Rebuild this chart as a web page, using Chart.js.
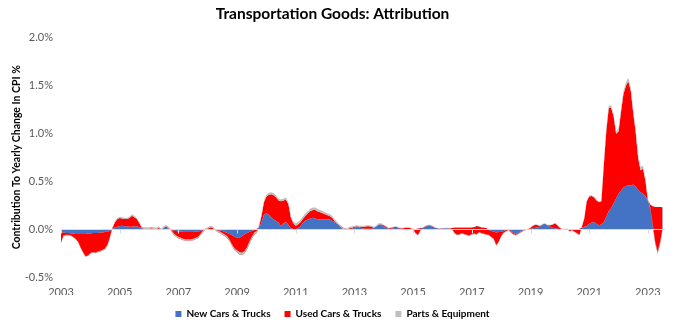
<!DOCTYPE html>
<html>
<head>
<meta charset="utf-8">
<title>Transportation Goods: Attribution</title>
<script src="https://cdn.jsdelivr.net/npm/chart.js@4.4.0/dist/chart.umd.min.js"></script>
<style>
  html, body { margin: 0; padding: 0; background: #ffffff; }
  #wrap { width: 680px; height: 325px; }
</style>
</head>
<body>
<div id="wrap"><canvas id="transportChart" width="680" height="325"></canvas></div>
<script>
// Contribution to yearly CPI change, percentage points, monthly from Jan 2003
const newCars = [
  -0.03, -0.035, -0.04, -0.04, -0.045, -0.045, -0.05, -0.05, -0.05, -0.05, -0.05, -0.045,   // 2003
  -0.045, -0.04, -0.04, -0.04, -0.035, -0.035, -0.03, -0.025, -0.02, 0.0, 0.02, 0.025,      // 2004
  0.03, 0.035, 0.03, 0.03, 0.025, 0.025, 0.03, 0.03, 0.02, 0.01, 0.005, 0.0,                // 2005
  0.0, 0.0, 0.0, 0.0, 0.005, 0.0, 0.01, 0.015, 0.005, -0.005, -0.015, -0.02,                // 2006
  -0.025, -0.025, -0.03, -0.03, -0.03, -0.03, -0.03, -0.025, -0.025, -0.02, -0.01, 0.0,     // 2007
  0.0, 0.0, 0.0, -0.005, -0.01, -0.015, -0.02, -0.03, -0.04, -0.05, -0.065, -0.08,          // 2008
  -0.09, -0.09, -0.075, -0.055, -0.04, -0.03, -0.02, -0.01, 0.0, 0.02, 0.07, 0.15,          // 2009
  0.165, 0.15, 0.125, 0.1, 0.085, 0.07, 0.03, 0.06, 0.075, 0.045, 0.01, 0.0,                // 2010
  0.0, 0.01, 0.03, 0.07, 0.09, 0.1, 0.11, 0.12, 0.11, 0.1, 0.1, 0.1,                        // 2011
  0.1, 0.1, 0.1, 0.085, 0.07, 0.055, 0.04, 0.02, 0.005, 0.0, 0.0, 0.005,                    // 2012
  0.015, 0.025, 0.02, 0.01, 0.005, 0.005, 0.005, 0.005, 0.01, 0.03, 0.05, 0.045,            // 2013
  0.03, 0.015, 0.005, 0.005, 0.01, 0.015, 0.01, 0.005, 0.0, 0.0, 0.0, 0.0,                  // 2014
  0.0, 0.0, 0.005, 0.01, 0.015, 0.025, 0.035, 0.035, 0.025, 0.015, 0.01, 0.005,             // 2015
  0.01, 0.01, 0.01, 0.01, 0.012, 0.015, 0.015, 0.015, 0.015, 0.015, 0.015, 0.015,           // 2016
  0.015, 0.02, 0.03, 0.025, 0.015, 0.015, 0.01, -0.01, -0.02, -0.028, -0.035, -0.03,        // 2017
  -0.03, -0.02, -0.01, 0.0, -0.02, -0.04, -0.05, -0.04, -0.025, -0.015, -0.005, 0.0,        // 2018
  0.005, 0.01, 0.015, 0.02, 0.03, 0.05, 0.055, 0.035, 0.025, 0.015, 0.01, 0.005,            // 2019
  0.0, -0.005, -0.005, 0.0, -0.01, -0.005, -0.005, -0.01, 0.0, 0.015, 0.025, 0.03,          // 2020
  0.055, 0.07, 0.075, 0.055, 0.04, 0.05, 0.075, 0.13, 0.19, 0.22, 0.27, 0.32,               // 2021
  0.37, 0.4, 0.435, 0.45, 0.455, 0.455, 0.465, 0.445, 0.41, 0.385, 0.37, 0.345,             // 2022
  0.3, 0.255, 0.235, 0.23, 0.23, 0.23, 0.225                                                // 2023
];

const usedCars = [
  -0.115, -0.035, -0.025, -0.025, -0.025, -0.04, -0.055, -0.085, -0.145, -0.195, -0.235, -0.235,  // 2003
  -0.21, -0.205, -0.213, -0.203, -0.2, -0.19, -0.18, -0.145, -0.07, 0.01, 0.048, 0.078,           // 2004
  0.085, 0.075, 0.075, 0.075, 0.09, 0.115, 0.095, 0.075, 0.045, 0.005, 0.0, 0.005,                // 2005
  0.005, 0.01, 0.005, 0.0, 0.01, -0.01, 0.005, 0.015, 0.005, -0.01, -0.04, -0.06,                 // 2006
  -0.07, -0.08, -0.085, -0.09, -0.09, -0.09, -0.085, -0.08, -0.07, -0.045, -0.02, -0.005,         // 2007
  0.005, 0.02, 0.015, -0.005, -0.02, -0.025, -0.04, -0.045, -0.055, -0.08, -0.115, -0.14,         // 2008
  -0.155, -0.175, -0.195, -0.2, -0.175, -0.125, -0.085, -0.05, -0.04, 0.01, 0.07, 0.13,           // 2009
  0.175, 0.21, 0.24, 0.255, 0.245, 0.23, 0.26, 0.24, 0.235, 0.215, 0.11, 0.06,                    // 2010
  0.035, 0.04, 0.045, 0.04, 0.05, 0.065, 0.08, 0.08, 0.09, 0.085, 0.075, 0.065,                   // 2011
  0.055, 0.045, 0.035, 0.03, 0.01, 0.0, -0.01, -0.015, -0.01, -0.005, 0.01, 0.01,                 // 2012
  0.01, 0.005, 0.005, 0.015, 0.02, 0.025, 0.025, 0.02, 0.005, 0.0, 0.0, 0.005,                    // 2013
  0.01, 0.01, 0.005, 0.01, 0.01, 0.01, 0.005, 0.005, 0.01, 0.015, 0.015, 0.01,                    // 2014
  0.0, -0.045, -0.07, -0.025, 0.0, 0.005, 0.005, 0.005, 0.005, 0.0, -0.003, 0.002,                // 2015
  -0.005, 0.0, 0.0, -0.005, -0.017, -0.06, -0.08, -0.07, -0.06, -0.07, -0.08, -0.085,             // 2016
  -0.07, -0.07, -0.085, -0.06, -0.06, -0.065, -0.07, -0.055, -0.065, -0.077, -0.135, -0.105,      // 2017
  -0.045, -0.02, -0.015, -0.01, -0.015, -0.015, -0.015, -0.01, -0.01, -0.005, -0.005, 0.0,        // 2018
  0.01, 0.025, 0.03, 0.02, 0.005, 0.0, 0.0, 0.005, 0.015, 0.03, 0.05, 0.035,                      // 2019
  0.015, 0.0, -0.005, 0.005, -0.015, -0.01, -0.025, -0.035, -0.065, 0.01, 0.085, 0.26,            // 2020
  0.285, 0.275, 0.255, 0.245, 0.24, 0.24, 0.6, 0.895, 1.075, 1.045, 0.905, 0.675,                 // 2021
  0.65, 0.82, 0.975, 1.045, 1.09, 0.99, 0.75, 0.57, 0.335, 0.23, 0.26, 0.16,                      // 2022
  0.0, -0.05, -0.205, -0.38, -0.485, -0.38, -0.235                                                // 2023
];

const parts = [
  0.005, 0.005, 0.005, 0.005, 0.005, 0.005, 0.005, 0.005, 0.005, 0.005, 0.005, 0.005,   // 2003
  0.005, 0.005, 0.008, 0.008, 0.01, 0.01, 0.01, 0.01, 0.01, 0.01, 0.012, 0.012,         // 2004
  0.015, 0.015, 0.015, 0.015, 0.015, 0.015, 0.015, 0.015, 0.015, 0.015, 0.015, 0.015,   // 2005
  0.015, 0.015, 0.015, 0.015, 0.015, 0.015, 0.015, 0.015, 0.015, 0.015, 0.015, 0.015,   // 2006
  0.015, 0.015, 0.015, 0.015, 0.015, 0.015, 0.015, 0.015, 0.015, 0.015, 0.015, 0.015,   // 2007
  0.015, 0.015, 0.015, 0.015, 0.015, 0.015, 0.02, 0.02, 0.02, 0.02, 0.02, 0.02,         // 2008
  0.025, 0.025, 0.025, 0.025, 0.025, 0.025, 0.025, 0.025, 0.02, 0.02, 0.02, 0.02,       // 2009
  0.02, 0.02, 0.02, 0.02, 0.02, 0.02, 0.02, 0.02, 0.02, 0.02, 0.02, 0.02,               // 2010
  0.025, 0.025, 0.025, 0.025, 0.025, 0.025, 0.025, 0.025, 0.025, 0.025, 0.025, 0.025,   // 2011
  0.02, 0.02, 0.02, 0.02, 0.02, 0.02, 0.015, 0.015, 0.015, 0.015, 0.015, 0.015,         // 2012
  0.01, 0.01, 0.01, 0.01, 0.01, 0.01, 0.01, 0.01, 0.01, 0.01, 0.01, 0.01,               // 2013
  0.005, 0.005, 0.005, 0.005, 0.005, 0.005, 0.005, 0.005, 0.005, 0.005, 0.005, 0.005,   // 2014
  0.005, 0.005, 0.005, 0.005, 0.005, 0.005, 0.005, 0.005, 0.005, 0.005, 0.005, 0.005,   // 2015
  0.005, 0.005, 0.005, 0.005, 0.005, 0.005, 0.005, 0.005, 0.005, 0.005, 0.005, 0.005,   // 2016
  0.005, 0.005, 0.005, 0.005, 0.005, 0.005, 0.005, 0.005, 0.005, 0.005, 0.005, 0.005,   // 2017
  0.005, 0.005, 0.005, 0.005, 0.005, 0.005, 0.005, 0.005, 0.005, 0.005, 0.005, 0.005,   // 2018
  0.005, 0.005, 0.005, 0.005, 0.005, 0.005, 0.005, 0.005, 0.005, 0.005, 0.005, 0.005,   // 2019
  0.005, 0.005, 0.005, 0.005, 0.005, 0.005, 0.005, 0.005, 0.005, 0.005, 0.005, 0.005,   // 2020
  0.01, 0.01, 0.01, 0.01, 0.01, 0.01, 0.025, 0.025, 0.025, 0.025, 0.025, 0.025,         // 2021
  0.03, 0.03, 0.03, 0.035, 0.035, 0.035, 0.035, 0.035, 0.035, 0.035, 0.035, 0.035,      // 2022
  0.02, 0.02, 0.02, 0.02, 0.02, 0.02, 0.02                                              // 2023
];

// x-axis labels, one every 24 months
const yearTicks = ['2003', '2005', '2007', '2009', '2011', '2013', '2015', '2017', '2019', '2021', '2023'];
const seriesNames = ['New Cars & Trucks', 'Used Cars & Trucks', 'Parts & Equipment'];
const seriesColors = ['#4472C4', '#FF0000', '#BFBFBF'];

const FONT = 'Lato, "Open Sans", sans-serif';

// Stack the series by hand so each layer can be painted over the one below it
const stackNew = newCars.map((v, i) => ({ x: i, y: v }));
const stackUsed = newCars.map((v, i) => ({ x: i, y: v + usedCars[i] }));
const stackParts = newCars.map((v, i) => ({ x: i, y: v + usedCars[i] + parts[i] }));

// Axis line at 0% with small tick marks, drawn over the areas
const zeroAxisLine = {
    id: 'zeroAxisLine',
    afterDatasetsDraw(chart) {
        const { ctx, chartArea, scales } = chart;
        const y0 = Math.round(scales.y.getPixelForValue(0)) + 0.5;
        ctx.save();
        ctx.strokeStyle = '#D9D9D9';
        ctx.lineWidth = 1;
        ctx.beginPath();
        ctx.moveTo(chartArea.left, y0);
        ctx.lineTo(chartArea.right, y0);
        scales.x.ticks.forEach(t => {
            const x = Math.round(scales.x.getPixelForValue(t.value)) + 0.5;
            ctx.moveTo(x, y0);
            ctx.lineTo(x, y0 + 4);
        });
        ctx.stroke();
        ctx.restore();
    }
};

function areaDataset(idx, points, fill, order) {
    return {
        label: seriesNames[idx],
        data: points,
        backgroundColor: seriesColors[idx],
        borderColor: 'rgba(0,0,0,0)',
        borderWidth: 0,
        pointRadius: 0,
        tension: 0,
        fill: fill,
        order: order
    };
}

const ctx = document.getElementById('transportChart').getContext('2d');
new Chart(ctx, {
    type: 'line',
    data: {
        datasets: [
            areaDataset(0, stackNew, 'origin', 3),
            areaDataset(1, stackUsed, '-1', 2),
            areaDataset(2, stackParts, '-1', 1)
        ]
    },
    options: {
        responsive: false,
        animation: false,
        layout: { padding: { left: 0, right: 15, top: 0, bottom: -4 } },
        scales: {
            x: {
                type: 'linear',
                min: 0,
                max: 247,
                grid: { display: false, drawTicks: false },
                border: { display: false },
                ticks: {
                    stepSize: 24,
                    includeBounds: false,
                    autoSkip: false,
                    maxRotation: 0,
                    padding: 9,
                    color: '#595959',
                    font: { family: FONT, size: 11 },
                    callback: value => yearTicks[value / 24]
                },
                afterFit(scale) { scale.height = 18; }
            },
            y: {
                min: -0.5,
                max: 2.0,
                grid: { display: false, drawTicks: false },
                border: { display: false },
                ticks: {
                    stepSize: 0.5,
                    padding: 8,
                    color: '#595959',
                    font: { family: FONT, size: 11 },
                    callback: value => value.toFixed(1) + '%'
                },
                title: {
                    display: true,
                    text: 'Contribution To Yearly Change In CPI %',
                    color: '#000000',
                    font: { family: FONT, size: 10.5, weight: 'bold' },
                    padding: { top: 10, bottom: 0 }
                },
                afterFit(scale) { scale.width = 61; }
            }
        },
        plugins: {
            title: {
                display: true,
                text: 'Transportation Goods: Attribution',
                color: '#000000',
                font: { family: FONT, size: 15.5, weight: 'bold' },
                padding: { top: 5, bottom: 14 }
            },
            legend: {
                position: 'bottom',
                labels: {
                    boxWidth: 6,
                    boxHeight: 6,
                    padding: 14,
                    color: '#000000',
                    font: { family: FONT, size: 10, weight: 'bold' },
                    sort: (a, b) => a.datasetIndex - b.datasetIndex
                }
            },
            tooltip: { enabled: false }
        }
    },
    plugins: [zeroAxisLine]
});
</script>
</body>
</html>
